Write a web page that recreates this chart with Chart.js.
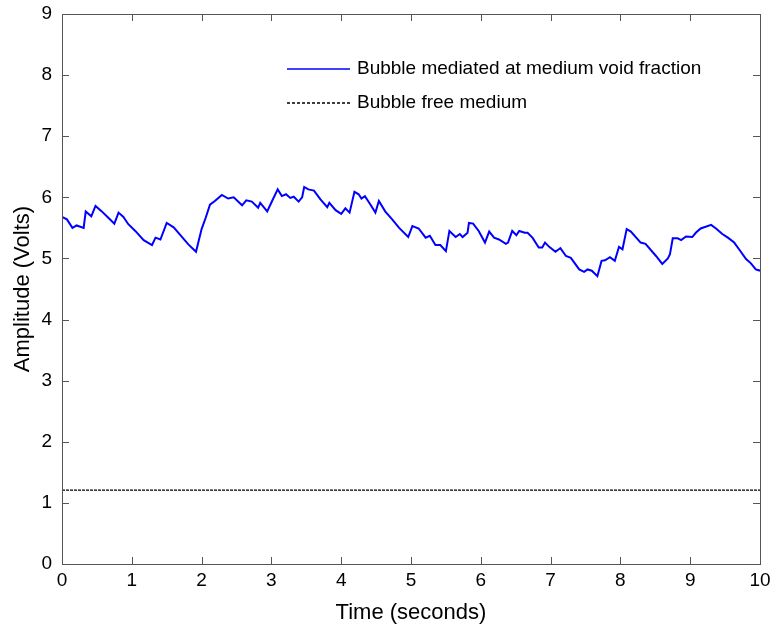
<!DOCTYPE html>
<html>
<head>
<meta charset="utf-8">
<script src="https://cdn.jsdelivr.net/npm/chart.js@4/dist/chart.umd.min.js"></script>
<style>
  html, body { margin: 0; padding: 0; background: #fff; }
  #wrap { width: 771px; height: 633px; }
</style>
</head>
<body>
<div id="wrap"><canvas id="myChart" width="771" height="633"></canvas></div>
<script>
// Time axis (seconds) and amplitude readings (Volts)
const times = [0, 0.07, 0.15, 0.21, 0.31, 0.34, 0.42, 0.48, 0.57, 0.66,
    0.75, 0.81, 0.88, 0.95, 1.05, 1.17, 1.29, 1.34, 1.41, 1.50,
    1.60, 1.69, 1.81, 1.92, 2.00, 2.06, 2.12, 2.19, 2.29, 2.38,
    2.46, 2.58, 2.64, 2.72, 2.81, 2.84, 2.94, 3.01, 3.09, 3.15,
    3.21, 3.27, 3.32, 3.39, 3.44, 3.47, 3.53, 3.61, 3.70, 3.80,
    3.83, 3.92, 4.00, 4.06, 4.12, 4.19, 4.25, 4.29, 4.34, 4.42,
    4.49, 4.54, 4.63, 4.73, 4.83, 4.96, 5.02, 5.11, 5.21, 5.27,
    5.35, 5.42, 5.50, 5.55, 5.64, 5.70, 5.74, 5.81, 5.83, 5.89,
    5.97, 6.06, 6.12, 6.19, 6.26, 6.36, 6.39, 6.45, 6.51, 6.55,
    6.63, 6.67, 6.74, 6.83, 6.88, 6.92, 6.98, 7.07, 7.14, 7.22,
    7.29, 7.41, 7.48, 7.53, 7.59, 7.67, 7.73, 7.78, 7.85, 7.92,
    7.98, 8.03, 8.09, 8.15, 8.29, 8.36, 8.51, 8.60, 8.68, 8.71,
    8.75, 8.82, 8.87, 8.94, 9.03, 9.08, 9.15, 9.30, 9.37, 9.46,
    9.54, 9.63, 9.70, 9.80, 9.87, 9.94, 10.0];

const bubbleVolts = [5.68, 5.64, 5.50, 5.54, 5.50, 5.77, 5.69, 5.86, 5.77, 5.67,
    5.57, 5.75, 5.68, 5.56, 5.45, 5.30, 5.22, 5.34, 5.31, 5.58,
    5.51, 5.39, 5.23, 5.11, 5.48, 5.67, 5.88, 5.94, 6.04, 5.98,
    6.00, 5.87, 5.95, 5.93, 5.83, 5.91, 5.77, 5.94, 6.13, 6.02,
    6.05, 5.99, 6.01, 5.93, 6.00, 6.17, 6.13, 6.11, 5.97, 5.84,
    5.91, 5.79, 5.73, 5.82, 5.75, 6.09, 6.05, 5.98, 6.02, 5.88,
    5.75, 5.94, 5.77, 5.64, 5.50, 5.35, 5.53, 5.49, 5.34, 5.37,
    5.22, 5.22, 5.12, 5.45, 5.35, 5.40, 5.35, 5.42, 5.58, 5.57,
    5.45, 5.26, 5.44, 5.34, 5.31, 5.24, 5.26, 5.45, 5.38, 5.45,
    5.42, 5.42, 5.34, 5.18, 5.18, 5.26, 5.19, 5.11, 5.17, 5.04,
    5.01, 4.82, 4.78, 4.82, 4.80, 4.71, 4.96, 4.97, 5.02, 4.96,
    5.19, 5.15, 5.48, 5.44, 5.26, 5.24, 5.04, 4.91, 5.00, 5.07,
    5.33, 5.33, 5.30, 5.36, 5.35, 5.42, 5.49, 5.55, 5.49, 5.40,
    5.34, 5.26, 5.15, 4.99, 4.92, 4.82, 4.80];

// bubble free medium stays flat across the record
const freeTimes = [0, 10];
const freeVolts = [1.21, 1.21];

const seriesLabels = ["Bubble mediated at medium void fraction", "Bubble free medium"];
const xTicks = [0, 1, 2, 3, 4, 5, 6, 7, 8, 9, 10];
const yTicks = [0, 1, 2, 3, 4, 5, 6, 7, 8, 9];

const FONT = "'Liberation Sans', Arial, sans-serif";
Chart.defaults.font.family = FONT;
Chart.defaults.color = "#000";

function toPoints(xs, ys) {
    return xs.map((x, i) => ({ x: x, y: ys[i] }));
}

// MATLAB style box with inward ticks on all four sides
const frame = {
    id: "frame",
    afterDatasetsDraw(chart) {
        const { ctx, chartArea: a, scales } = chart;
        ctx.save();
        ctx.strokeStyle = "#555";
        ctx.lineWidth = 1;
        ctx.strokeRect(a.left + 0.5, a.top + 0.5, a.right - a.left, a.bottom - a.top);
        ctx.beginPath();
        const len = 7;
        xTicks.forEach(v => {
            const px = Math.round(scales.x.getPixelForValue(v)) + 0.5;
            ctx.moveTo(px, a.bottom); ctx.lineTo(px, a.bottom - len);
            ctx.moveTo(px, a.top); ctx.lineTo(px, a.top + len);
        });
        yTicks.forEach(v => {
            const py = Math.round(scales.y.getPixelForValue(v)) + 0.5;
            ctx.moveTo(a.left, py); ctx.lineTo(a.left + len, py);
            ctx.moveTo(a.right, py); ctx.lineTo(a.right - len, py);
        });
        ctx.stroke();

        // legend inside the axes, no box
        const rows = [{ y: 69 }, { y: 103 }];
        ctx.font = "19px " + FONT;
        ctx.textBaseline = "middle";
        ctx.fillStyle = "#000";
        chart.data.datasets.forEach((ds, i) => {
            const y = rows[i].y;
            ctx.beginPath();
            ctx.strokeStyle = ds.borderColor;
            ctx.lineWidth = ds.borderWidth > 1 ? 1.5 : 1;
            ctx.setLineDash(i === 1 ? [3, 2] : []);
            ctx.moveTo(287, y); ctx.lineTo(350, y);
            ctx.stroke();
            ctx.setLineDash([]);
            ctx.fillText(ds.label, 357, y);
        });
        ctx.restore();
    }
};

new Chart("myChart", {
    type: "line",
    data: {
        datasets: [{
            label: seriesLabels[0],
            data: toPoints(times, bubbleVolts),
            borderColor: "#0000ff",
            borderWidth: 2,
            pointRadius: 0,
            tension: 0
        }, {
            label: seriesLabels[1],
            data: toPoints(freeTimes, freeVolts),
            borderColor: "#000",
            borderWidth: 1.3,
            borderDash: [3, 1],
            pointRadius: 0
        }]
    },
    options: {
        responsive: false,
        animation: false,
        layout: { padding: { top: 2, right: 1, left: 0, bottom: 0 } },
        plugins: { legend: { display: false }, tooltip: { enabled: false } },
        scales: {
            x: {
                type: "linear",
                min: 0, max: 10,
                afterFit(s) { s.height = 69; s.paddingRight = 11; },
                afterBuildTicks(s) { s.ticks = xTicks.map(v => ({ value: v })); },
                grid: { display: false, drawTicks: false },
                border: { display: false },
                ticks: { padding: 5, font: { size: 19 }, maxRotation: 0 },
                title: { display: true, text: "Time (seconds)", font: { size: 22 }, padding: { top: 0, bottom: 7 } }
            },
            y: {
                min: 0, max: 9,
                afterFit(s) { s.width = 62; s.paddingTop = 14; },
                afterBuildTicks(s) { s.ticks = yTicks.map(v => ({ value: v })); },
                grid: { display: false, drawTicks: false },
                border: { display: false },
                ticks: { padding: 10, font: { size: 19 } },
                title: { display: true, text: "Amplitude (Volts)", font: { size: 22 }, padding: { top: 10, bottom: 0 } }
            }
        }
    },
    plugins: [frame]
});
</script>
</body>
</html>
